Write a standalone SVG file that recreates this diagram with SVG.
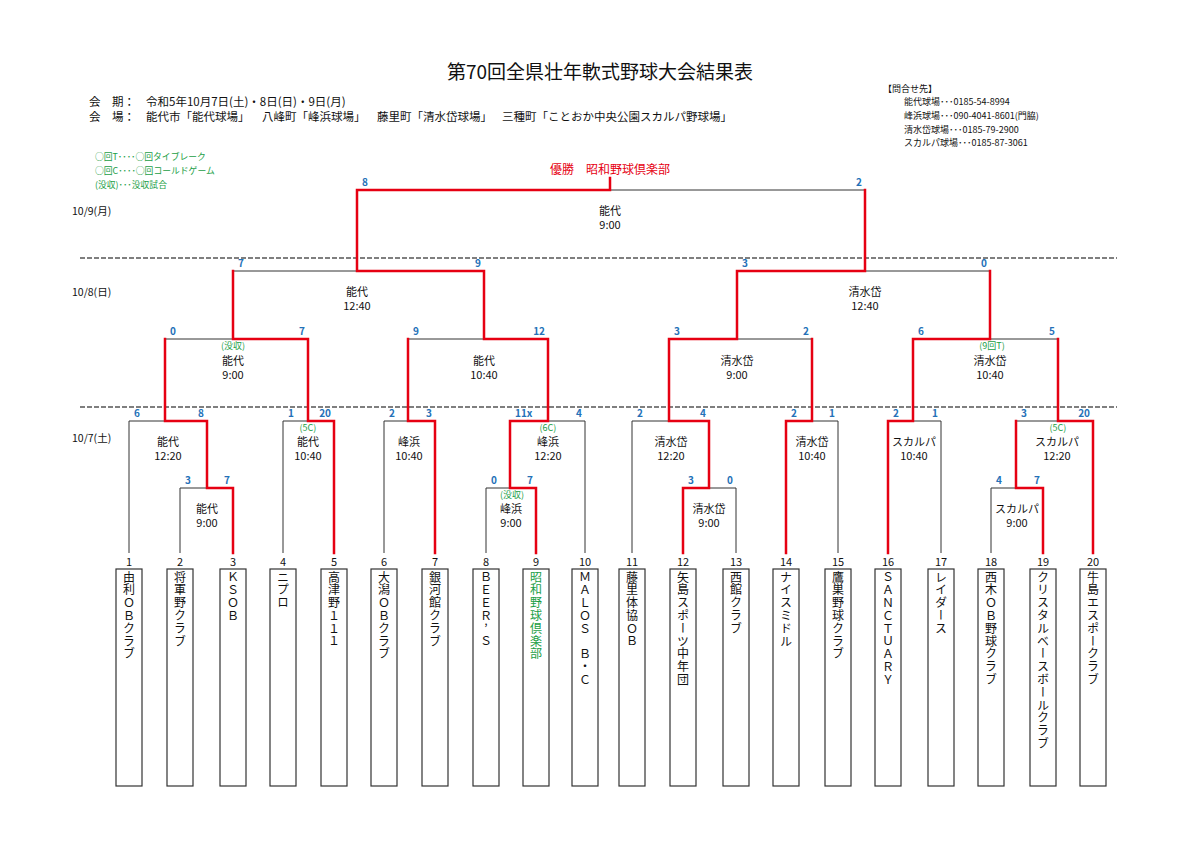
<svg xmlns="http://www.w3.org/2000/svg" width="1200" height="849" viewBox="0 0 1200 849">
<style>
text{font-family:"Noto Sans CJK JP","Noto Sans",sans-serif}
.ttl{font-size:19px;fill:#111;text-anchor:middle}
.hd{font-size:11.5px;fill:#111}
.ct{font-size:9px;fill:#111}
.lg{font-size:8.8px;fill:#1a9e45}
.dt{font-size:10.5px;fill:#111}
.win{font-size:12px;fill:#e60012;text-anchor:middle}
.sc{font-size:10px;fill:#2471b8;font-weight:bold}
.sl{text-anchor:start}
.sr{text-anchor:end}
.lb{font-size:11px;fill:#111;text-anchor:middle}
.nt{font-size:9px;fill:#1a9e45;text-anchor:middle}
.num{font-size:11px;fill:#111;text-anchor:middle}
.nm{font-size:12px;fill:#111;writing-mode:vertical-rl;text-orientation:upright;letter-spacing:0.8px}
.box{fill:#fff;stroke:#333;stroke-width:1.2}
.bk{fill:none;stroke:#333;stroke-width:1}
.rd{fill:none;stroke:#e60012;stroke-width:2.5;stroke-linecap:square;stroke-linejoin:miter}
.dash{stroke:#555;stroke-width:1.3;stroke-dasharray:5 2}
</style>
<rect width="1200" height="849" fill="#fff"/>

<g id="header">
<text class="ttl" x="600" y="79">第70回全県壮年軟式野球大会結果表</text>
<text class="hd" y="106"><tspan x="89">会　期：</tspan><tspan x="146">令和5年10月7日(土)・8日(日)・9日(月)</tspan></text>
<text class="hd" y="121"><tspan x="89">会　場：</tspan><tspan x="146">能代市「能代球場」</tspan><tspan x="262">八峰町「峰浜球場」</tspan><tspan x="377">藤里町「清水岱球場」</tspan><tspan x="502">三種町「ことおか中央公園スカルパ野球場」</tspan></text>
</g>

<g id="contacts">
<text class="ct" x="883" y="92">【問合せ先】</text>
<text class="ct" x="904" y="105">能代球場･･･0185-54-8994</text>
<text class="ct" x="904" y="119">峰浜球場･･･090-4041-8601(門脇)</text>
<text class="ct" x="904" y="133">清水岱球場･･･0185-79-2900</text>
<text class="ct" x="904" y="146">スカルパ球場･･･0185-87-3061</text>
</g>

<g id="legend">
<text class="lg" x="95" y="160">○回T････○回タイブレーク</text>
<text class="lg" x="95" y="174">○回C････○回コールドゲーム</text>
<text class="lg" x="95" y="188">(没収)･･･没収試合</text>
</g>

<g id="dates">
<text class="dt" x="72" y="215">10/9(月)</text>
<text class="dt" x="72" y="296">10/8(日)</text>
<text class="dt" x="72" y="442">10/7(土)</text>
</g>

<g id="separators">
<line class="dash" x1="80" y1="258" x2="1117" y2="258"/>
<line class="dash" x1="80" y1="407" x2="1117" y2="407"/>
</g>

<g id="connectors">
<g id="lines-plain">
<line class="bk" x1="180" y1="488" x2="233" y2="488"/>
<line class="bk" x1="129" y1="421" x2="207" y2="421"/>
<line class="bk" x1="283" y1="421" x2="334" y2="421"/>
<line class="bk" x1="384" y1="421" x2="435" y2="421"/>
<line class="bk" x1="486" y1="488" x2="536" y2="488"/>
<line class="bk" x1="510" y1="421" x2="585" y2="421"/>
<line class="bk" x1="683" y1="488" x2="736" y2="488"/>
<line class="bk" x1="632" y1="421" x2="709" y2="421"/>
<line class="bk" x1="786" y1="421" x2="838" y2="421"/>
<line class="bk" x1="888" y1="421" x2="941" y2="421"/>
<line class="bk" x1="991" y1="488" x2="1043" y2="488"/>
<line class="bk" x1="1016" y1="421" x2="1093" y2="421"/>
<line class="bk" x1="165" y1="339" x2="308" y2="339"/>
<line class="bk" x1="408" y1="339" x2="548" y2="339"/>
<line class="bk" x1="669" y1="339" x2="812" y2="339"/>
<line class="bk" x1="913" y1="339" x2="1058" y2="339"/>
<line class="bk" x1="233" y1="271" x2="484" y2="271"/>
<line class="bk" x1="737" y1="271" x2="990" y2="271"/>
<line class="bk" x1="357" y1="190" x2="865" y2="190"/>
<line class="bk" x1="129" y1="421" x2="129" y2="553"/>
<line class="bk" x1="180" y1="488" x2="180" y2="553"/>
<line class="bk" x1="283" y1="421" x2="283" y2="553"/>
<line class="bk" x1="384" y1="421" x2="384" y2="553"/>
<line class="bk" x1="486" y1="488" x2="486" y2="553"/>
<line class="bk" x1="585" y1="421" x2="585" y2="553"/>
<line class="bk" x1="632" y1="421" x2="632" y2="553"/>
<line class="bk" x1="736" y1="488" x2="736" y2="553"/>
<line class="bk" x1="838" y1="421" x2="838" y2="553"/>
<line class="bk" x1="941" y1="421" x2="941" y2="553"/>
<line class="bk" x1="991" y1="488" x2="991" y2="553"/>
</g>
<g id="lines-winners">
<polyline class="rd" points="233,553 233,488 207,488 207,421 165,421 165,339"/>
<polyline class="rd" points="334,553 334,421 308,421 308,339 233,339 233,271"/>
<polyline class="rd" points="435,553 435,421 408,421 408,339"/>
<polyline class="rd" points="536,553 536,488 510,488 510,421 548,421 548,339 484,339 484,271 357,271 357,190 610,190 610,178"/>
<polyline class="rd" points="683,553 683,488 709,488 709,421 669,421 669,339 737,339 737,271 865,271 865,190"/>
<polyline class="rd" points="786,553 786,421 812,421 812,339"/>
<polyline class="rd" points="888,553 888,421 913,421 913,339 990,339 990,271"/>
<polyline class="rd" points="1043,553 1043,488 1016,488 1016,421"/>
<polyline class="rd" points="1093,553 1093,421 1058,421 1058,339"/>
</g>
</g>

<g id="champion">
<text class="win" x="610" y="174">優勝　昭和野球倶楽部</text>
</g>

<g id="match-final">
<text class="sc sl" x="362" y="186">8</text><text class="sc sr" x="862" y="186">2</text>
<text class="lb" x="610" y="215">能代</text><text class="lb" x="610" y="229">9:00</text>
</g>
<g id="match-sf1">
<text class="sc sl" x="238" y="267">7</text><text class="sc sr" x="481" y="267">9</text>
<text class="lb" x="357" y="296">能代</text><text class="lb" x="357" y="310">12:40</text>
</g>
<g id="match-sf2">
<text class="sc sl" x="742" y="267">3</text><text class="sc sr" x="987" y="267">0</text>
<text class="lb" x="865" y="296">清水岱</text><text class="lb" x="865" y="310">12:40</text>
</g>
<g id="match-qf1">
<text class="sc sl" x="170" y="335">0</text><text class="sc sr" x="305" y="335">7</text>
<text class="nt" x="233" y="349">(没収)</text>
<text class="lb" x="233" y="365">能代</text><text class="lb" x="233" y="379">9:00</text>
</g>
<g id="match-qf2">
<text class="sc sl" x="413" y="335">9</text><text class="sc sr" x="545" y="335">12</text>
<text class="lb" x="484" y="365">能代</text><text class="lb" x="484" y="379">10:40</text>
</g>
<g id="match-qf3">
<text class="sc sl" x="674" y="335">3</text><text class="sc sr" x="809" y="335">2</text>
<text class="lb" x="737" y="365">清水岱</text><text class="lb" x="737" y="379">9:00</text>
</g>
<g id="match-qf4">
<text class="sc sl" x="918" y="335">6</text><text class="sc sr" x="1055" y="335">5</text>
<text class="nt" x="992" y="349">(9回T)</text>
<text class="lb" x="990" y="365">清水岱</text><text class="lb" x="990" y="379">10:40</text>
</g>

<g id="match-r1-2v3">
<text class="sc sl" x="185" y="484">3</text><text class="sc sr" x="230" y="484">7</text>
<text class="lb" x="207" y="513">能代</text><text class="lb" x="207" y="527">9:00</text>
</g>
<g id="match-r1-1">
<text class="sc sl" x="134" y="417">6</text><text class="sc sr" x="204" y="417">8</text>
<text class="lb" x="168" y="446">能代</text><text class="lb" x="168" y="460">12:20</text>
</g>
<g id="match-r1-4v5">
<text class="sc sl" x="288" y="417">1</text><text class="sc sr" x="331" y="417">20</text>
<text class="nt" x="308" y="431">(5C)</text>
<text class="lb" x="308" y="446">能代</text><text class="lb" x="308" y="460">10:40</text>
</g>
<g id="match-r1-6v7">
<text class="sc sl" x="389" y="417">2</text><text class="sc sr" x="432" y="417">3</text>
<text class="lb" x="409" y="446">峰浜</text><text class="lb" x="409" y="460">10:40</text>
</g>
<g id="match-r1-8v9">
<text class="sc sl" x="491" y="484">0</text><text class="sc sr" x="533" y="484">7</text>
<text class="nt" x="512" y="498">(没収)</text>
<text class="lb" x="511" y="513">峰浜</text><text class="lb" x="511" y="527">9:00</text>
</g>
<g id="match-r1-10">
<text class="sc sl" x="515" y="417">11x</text><text class="sc sr" x="582" y="417">4</text>
<text class="nt" x="548" y="431">(6C)</text>
<text class="lb" x="548" y="446">峰浜</text><text class="lb" x="548" y="460">12:20</text>
</g>
<g id="match-r1-12v13">
<text class="sc sl" x="688" y="484">3</text><text class="sc sr" x="733" y="484">0</text>
<text class="lb" x="709" y="513">清水岱</text><text class="lb" x="709" y="527">9:00</text>
</g>
<g id="match-r1-11">
<text class="sc sl" x="637" y="417">2</text><text class="sc sr" x="706" y="417">4</text>
<text class="lb" x="671" y="446">清水岱</text><text class="lb" x="671" y="460">12:20</text>
</g>
<g id="match-r1-14v15">
<text class="sc sl" x="791" y="417">2</text><text class="sc sr" x="835" y="417">1</text>
<text class="lb" x="812" y="446">清水岱</text><text class="lb" x="812" y="460">10:40</text>
</g>
<g id="match-r1-16v17">
<text class="sc sl" x="893" y="417">2</text><text class="sc sr" x="938" y="417">1</text>
<text class="lb" x="914" y="446">スカルパ</text><text class="lb" x="914" y="460">10:40</text>
</g>
<g id="match-r1-18v19">
<text class="sc sl" x="996" y="484">4</text><text class="sc sr" x="1040" y="484">7</text>
<text class="lb" x="1017" y="513">スカルパ</text><text class="lb" x="1017" y="527">9:00</text>
</g>
<g id="match-r1-20">
<text class="sc sl" x="1021" y="417">3</text><text class="sc sr" x="1090" y="417">20</text>
<text class="nt" x="1058" y="431">(5C)</text>
<text class="lb" x="1057" y="446">スカルパ</text><text class="lb" x="1057" y="460">12:20</text>
</g>

<g id="team-1"><rect class="box" x="116" y="569" width="26" height="217"/><text class="num" x="129" y="566">1</text><text class="nm" x="129" y="571">由利ＯＢクラブ</text></g>
<g id="team-2"><rect class="box" x="167" y="569" width="26" height="217"/><text class="num" x="180" y="566">2</text><text class="nm" x="180" y="571">将軍野クラブ</text></g>
<g id="team-3"><rect class="box" x="220" y="569" width="26" height="217"/><text class="num" x="233" y="566">3</text><text class="nm" x="233" y="571">ＫＳＯＢ</text></g>
<g id="team-4"><rect class="box" x="270" y="569" width="26" height="217"/><text class="num" x="283" y="566">4</text><text class="nm" x="283" y="571">ニプロ</text></g>
<g id="team-5"><rect class="box" x="321" y="569" width="26" height="217"/><text class="num" x="334" y="566">5</text><text class="nm" x="334" y="571">高津野１１１</text></g>
<g id="team-6"><rect class="box" x="371" y="569" width="26" height="217"/><text class="num" x="384" y="566">6</text><text class="nm" x="384" y="571">大潟ＯＢクラブ</text></g>
<g id="team-7"><rect class="box" x="422" y="569" width="26" height="217"/><text class="num" x="435" y="566">7</text><text class="nm" x="435" y="571">銀河館クラブ</text></g>
<g id="team-8"><rect class="box" x="473" y="569" width="26" height="217"/><text class="num" x="486" y="566">8</text><text class="nm" x="486" y="571">ＢＥＥＲ’Ｓ</text></g>
<g id="team-9"><rect class="box" x="523" y="569" width="26" height="217"/><text class="num" x="536" y="566">9</text><text class="nm" x="536" y="571" style="fill:#1a9e45">昭和野球倶楽部</text></g>
<g id="team-10"><rect class="box" x="572" y="569" width="26" height="217"/><text class="num" x="585" y="566">10</text><text class="nm" x="585" y="571">ＭＡＬＯＳ　Ｂ・Ｃ</text></g>
<g id="team-11"><rect class="box" x="619" y="569" width="26" height="217"/><text class="num" x="632" y="566">11</text><text class="nm" x="632" y="571">藤里体協ＯＢ</text></g>
<g id="team-12"><rect class="box" x="670" y="569" width="26" height="217"/><text class="num" x="683" y="566">12</text><text class="nm" x="683" y="571">矢島スポーツ中年団</text></g>
<g id="team-13"><rect class="box" x="723" y="569" width="26" height="217"/><text class="num" x="736" y="566">13</text><text class="nm" x="736" y="571">西館クラブ</text></g>
<g id="team-14"><rect class="box" x="773" y="569" width="26" height="217"/><text class="num" x="786" y="566">14</text><text class="nm" x="786" y="571">ナイスミドル</text></g>
<g id="team-15"><rect class="box" x="825" y="569" width="26" height="217"/><text class="num" x="838" y="566">15</text><text class="nm" x="838" y="571">鷹巣野球クラブ</text></g>
<g id="team-16"><rect class="box" x="875" y="569" width="26" height="217"/><text class="num" x="888" y="566">16</text><text class="nm" x="888" y="571">ＳＡＮＣＴＵＡＲＹ</text></g>
<g id="team-17"><rect class="box" x="928" y="569" width="26" height="217"/><text class="num" x="941" y="566">17</text><text class="nm" x="941" y="571">レイダース</text></g>
<g id="team-18"><rect class="box" x="978" y="569" width="26" height="217"/><text class="num" x="991" y="566">18</text><text class="nm" x="991" y="571">西木ＯＢ野球クラブ</text></g>
<g id="team-19"><rect class="box" x="1030" y="569" width="26" height="217"/><text class="num" x="1043" y="566">19</text><text class="nm" x="1043" y="571">クリスタルベースボールクラブ</text></g>
<g id="team-20"><rect class="box" x="1080" y="569" width="26" height="217"/><text class="num" x="1093" y="566">20</text><text class="nm" x="1093" y="571">牛島エスポークラブ</text></g>
</svg>
